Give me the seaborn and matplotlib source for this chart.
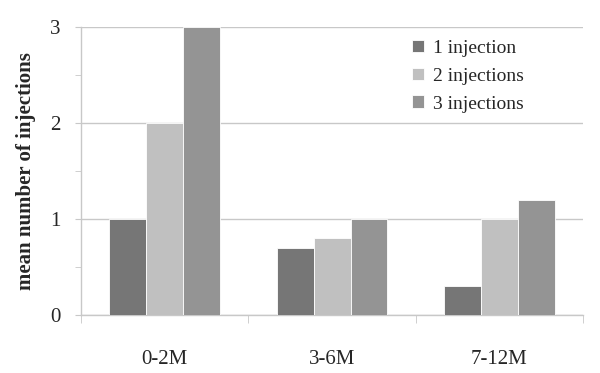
import matplotlib
matplotlib.use("Agg")
import matplotlib.pyplot as plt
import seaborn as sns
import pandas as pd
from matplotlib.ticker import MultipleLocator, FixedLocator

categories = ["0-2M", "3-6M", "7-12M"]
series_names = ["1 injection", "2 injections", "3 injections"]
inj1 = [1.0, 0.7, 0.3]
inj2 = [2.0, 0.8, 1.0]
inj3 = [3.0, 1.0, 1.2]
colors = ["#767676", "#c0c0c0", "#949494"]

rows = []
for name, vals in zip(series_names, [inj1, inj2, inj3]):
    for c, v in zip(categories, vals):
        rows.append({"period": c, "series": name, "value": v})
df = pd.DataFrame(rows)

sns.set_style("white")
plt.rcParams['font.family'] = ['Liberation Serif', 'DejaVu Serif']

fig = plt.figure(figsize=(6, 3.73), dpi=100)
ax = fig.add_axes([0.135, 0.155, 0.837, 0.773])

sns.barplot(data=df, x="period", y="value", hue="series", order=categories,
            hue_order=series_names, palette=colors, width=0.66, saturation=1,
            edgecolor="white", linewidth=0.6, ax=ax, zorder=3)

ax.set_xlim(-0.5, 2.5)
ax.set_ylim(0, 3)
ax.yaxis.set_major_locator(MultipleLocator(1))
ax.yaxis.set_minor_locator(MultipleLocator(0.5))
ax.grid(axis="y", which="major", color="#c8c8c8", linewidth=1, zorder=0)
ax.set_axisbelow(True)

for s in ["top", "right"]:
    ax.spines[s].set_visible(False)
for s in ["left", "bottom"]:
    ax.spines[s].set_color("#c8c8c8")
    ax.spines[s].set_linewidth(1)

ax.tick_params(axis="y", which="major", length=4, color="#c8c8c8", labelsize=15, pad=11, direction="out", left=True)
ax.tick_params(axis="y", which="minor", length=4, color="#c8c8c8", direction="out", left=True)
ax.xaxis.set_minor_locator(FixedLocator([-0.5, 0.5, 1.5, 2.5]))
ax.tick_params(axis="x", which="major", length=0, labelsize=15, pad=25)
ax.tick_params(axis="x", which="minor", length=6, color="#c8c8c8", direction="out", bottom=True)

ax.set_xlabel("")
ax.set_ylabel("mean number of injections", fontsize=15, fontweight="bold", labelpad=10)

leg = ax.legend(loc="upper left", bbox_to_anchor=(0.624, 1.015), frameon=False,
                fontsize=14, handlelength=0.6, handleheight=0.6, handletextpad=0.5,
                labelspacing=0.55)

fig.savefig("out.png", dpi=100)
